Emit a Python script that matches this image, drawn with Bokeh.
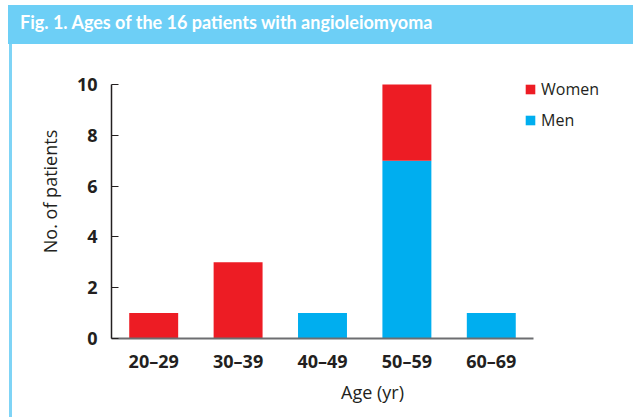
from bokeh.plotting import figure
from bokeh.layouts import column, row
from bokeh.models import Range1d, FixedTicker, Legend, LegendItem, Div
from bokeh.embed import file_html
from bokeh.resources import INLINE

# ---- data ----
age_groups = ["20–29", "30–39", "40–49", "50–59", "60–69"]
men = [0, 0, 1, 7, 1]
women = [1, 3, 0, 3, 0]
y_ticks = [0, 2, 4, 6, 8, 10]
title_text = "Fig. 1. Ages of the 16 patients with angioleiomyoma"

RED = "#ed1c24"
BLUE = "#00aeef"
BAR_BG = "#6dcff6"
EDGE = "#7fd4f6"
TXT = "#231f20"

# category slots on a numeric axis (slot centres at i + 0.5)
x_pos = [i + 0.5 for i in range(len(age_groups))]
n_cat = len(age_groups)

# ---- title bar (blue lead-in block + title block) ----
lead = Div(text="", width=12, height=39, margin=(5, 0, 0, 8),
           styles={"background-color": BAR_BG})
title = Div(text=('<div style="line-height:34px; white-space:nowrap; '
                  'color:white; font-family:Lato; font-size:18px; '
                  'font-weight:bold;">' + title_text + '</div>'),
            width=613, height=39, margin=(5, 0, 0, 0),
            styles={"background-color": BAR_BG, "overflow": "hidden"})

# ---- main chart ----
p = figure(width=621, height=373, x_range=Range1d(0, 6.185),
           y_range=Range1d(0, 11.575), output_backend="svg",
           toolbar_location=None,
           min_border_left=99, min_border_right=0, min_border_top=0,
           min_border_bottom=79)
p.styles = {"border-left": "3px solid " + EDGE, "margin-left": "9px"}
p.outline_line_color = None
p.xgrid.visible = False
p.ygrid.visible = False

source = dict(x=x_pos, men=men, women=women)
rs = p.vbar_stack(["men", "women"], x="x", width=0.58, color=[BLUE, RED],
                  line_color=None, source=source)

p.xaxis.axis_label = "Age (yr)"
p.xaxis.ticker = FixedTicker(ticks=x_pos)
p.xaxis.major_label_overrides = {x: lab for x, lab in zip(x_pos, age_groups)}
p.xaxis.bounds = (0, n_cat)
p.xaxis.axis_line_color = "#6d6e71"
p.xaxis.axis_line_width = 2
p.xaxis.major_tick_line_color = None
p.xaxis.major_tick_out = 0
p.xaxis.major_tick_in = 0
p.xaxis.minor_tick_line_color = None
p.xaxis.major_label_standoff = 10
p.xaxis.axis_label_standoff = 4

p.yaxis.axis_label = "No. of patients"
p.yaxis.ticker = FixedTicker(ticks=y_ticks)
p.yaxis.bounds = (y_ticks[0], y_ticks[-1])
p.yaxis.major_tick_in = 7
p.yaxis.major_tick_out = 0
p.yaxis.minor_tick_line_color = None
p.yaxis.axis_line_color = TXT
p.yaxis.axis_line_width = 1.5
p.yaxis.major_tick_line_color = TXT
p.yaxis.major_label_standoff = 14
p.yaxis.axis_label_standoff = 12

for ax in (p.xaxis, p.yaxis):
    ax.major_label_text_font = "Open Sans"
    ax.major_label_text_font_size = "18px"
    ax.major_label_text_font_style = "bold"
    ax.major_label_text_color = TXT
    ax.axis_label_text_font = "Open Sans"
    ax.axis_label_text_font_size = "18px"
    ax.axis_label_text_font_style = "normal"
    ax.axis_label_text_color = TXT

legend = Legend(items=[LegendItem(label="Women", renderers=[rs[1]]),
                       LegendItem(label="Men", renderers=[rs[0]])],
                location=(413, 207), border_line_color=None,
                background_fill_alpha=0, padding=0, margin=0, spacing=9,
                label_standoff=5, label_height=20, glyph_height=12,
                glyph_width=12, label_text_font="Open Sans",
                label_text_font_size="16px", label_text_color=TXT)
p.add_layout(legend)

layout = column(row(lead, title, spacing=0), p, spacing=0)
open("out.html", "w").write(file_html(layout, INLINE))
